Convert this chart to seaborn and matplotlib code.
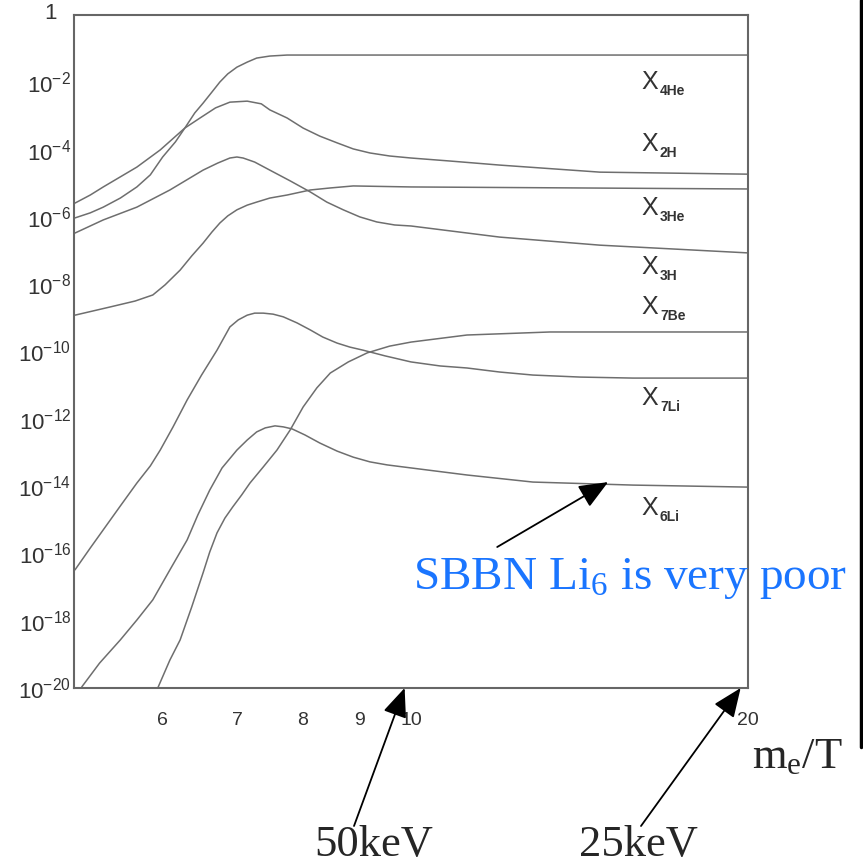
import numpy as np
import matplotlib
matplotlib.use("Agg")
import matplotlib.pyplot as plt
import seaborn as sns
from matplotlib.lines import Line2D
from matplotlib.ticker import NullFormatter, NullLocator

# abundances X vs m_e/T, y stored as log10(X)
he4_x = [5.01, 5.17, 5.31, 5.50, 5.69, 5.85, 6.00, 6.16, 6.28, 6.41, 6.52, 6.64, 6.75, 6.86,
         6.99, 7.14, 7.28, 7.48, 7.75, 10.0, 20.0]
he4_logy = [-6.03, -5.88, -5.71, -5.44, -5.11, -4.75, -4.22, -3.77, -3.36, -2.91, -2.62, -2.29,
            -1.99, -1.75, -1.55, -1.40, -1.28, -1.22, -1.19, -1.19, -1.19]

h2_x = [5.01, 5.17, 5.31, 5.50, 5.69, 5.97, 6.28, 6.48, 6.69, 6.89, 7.14, 7.35, 7.48, 7.75,
        8.01, 8.29, 8.59, 8.88, 9.19, 9.57, 10.0, 10.84, 12.0, 14.75, 20.0]
h2_logy = [-5.59, -5.35, -5.11, -4.81, -4.52, -4.01, -3.36, -3.06, -2.76, -2.59, -2.56, -2.64,
           -2.82, -3.06, -3.36, -3.60, -3.80, -3.98, -4.10, -4.19, -4.25, -4.34, -4.46, -4.67, -4.73]

h3_x = [5.01, 5.31, 5.69, 6.09, 6.52, 6.72, 6.89, 6.99, 7.08, 7.25, 7.48, 7.80, 8.13, 8.41,
        8.70, 9.00, 9.32, 9.67, 10.0, 12.0, 14.75, 20.0]
h3_logy = [-6.48, -6.09, -5.71, -5.20, -4.61, -4.40, -4.25, -4.22, -4.25, -4.37, -4.61, -4.93,
           -5.26, -5.56, -5.79, -6.00, -6.15, -6.24, -6.27, -6.60, -6.84, -7.07]

he3_x = [5.01, 5.38, 5.67, 5.88, 6.03, 6.22, 6.37, 6.52, 6.64, 6.75, 6.86, 6.99, 7.14, 7.28,
         7.48, 7.75, 8.13, 8.47, 8.88, 10.0, 20.0]
he3_logy = [-8.92, -8.68, -8.50, -8.32, -8.02, -7.58, -7.16, -6.78, -6.45, -6.18, -5.97, -5.79,
            -5.65, -5.56, -5.44, -5.35, -5.20, -5.14, -5.08, -5.11, -5.17]

be7_x = [5.94, 6.09, 6.22, 6.37, 6.52, 6.61, 6.71, 6.82, 6.93, 7.06, 7.18, 7.38, 7.59, 7.80,
         8.01, 8.24, 8.47, 8.79, 9.14, 9.57, 10.0, 11.22, 13.31, 20.0]
be7_logy = [-20.0, -19.17, -18.57, -17.59, -16.58, -15.96, -15.39, -14.95, -14.62, -14.26,
            -13.91, -13.43, -12.93, -12.33, -11.65, -11.08, -10.64, -10.31, -10.04, -9.84,
            -9.72, -9.51, -9.42, -9.42]

li7_x = [5.01, 5.17, 5.31, 5.50, 5.69, 5.85, 5.97, 6.13, 6.31, 6.50, 6.71, 6.89, 7.01, 7.14,
         7.25, 7.38, 7.53, 7.69, 7.91, 8.13, 8.34, 8.59, 8.82, 9.06, 9.48, 10.0, 10.62, 11.22,
         12.0, 12.85, 14.16, 15.79, 20.0]
li7_logy = [-16.49, -15.84, -15.30, -14.59, -13.91, -13.40, -12.93, -12.24, -11.44, -10.70,
            -9.96, -9.27, -9.06, -8.92, -8.86, -8.86, -8.89, -8.97, -9.15, -9.36, -9.57, -9.75,
            -9.87, -9.96, -10.13, -10.31, -10.43, -10.49, -10.61, -10.70, -10.76, -10.79, -10.79]

li6_x = [5.08, 5.27, 5.50, 5.69, 5.88, 6.09, 6.31, 6.45, 6.61, 6.78, 6.99, 7.14, 7.28, 7.41,
         7.56, 7.69, 7.83, 8.04, 8.29, 8.59, 8.88, 9.19, 9.52, 10.0, 11.22, 12.85, 15.79, 20.0]
li6_logy = [-19.97, -19.26, -18.57, -17.98, -17.38, -16.49, -15.60, -14.86, -14.12, -13.46,
            -12.93, -12.63, -12.39, -12.27, -12.21, -12.24, -12.30, -12.48, -12.72, -12.96,
            -13.14, -13.28, -13.37, -13.46, -13.67, -13.88, -13.97, -14.03]

curves = [(he4_x, he4_logy), (h2_x, h2_logy), (h3_x, h3_logy), (he3_x, he3_logy),
          (be7_x, be7_logy), (li7_x, li7_logy), (li6_x, li6_logy)]

# curve labels on the right
label_names = ["4He", "2H", "3He", "3H", "7Be", "7Li", "6Li"]
label_logy = [-1.99, -3.83, -5.74, -7.49, -8.68, -11.38, -14.65]
label_x = 16.08

x_ticks = [6, 7, 8, 9, 10, 20]
x_ticklabels = ["6", "7", "8", "9", "10", "20"]

sns.set_theme(style="white")
plt.rcParams["font.family"] = ["Liberation Sans", "DejaVu Sans"]
plt.rcParams["mathtext.default"] = "regular"

fig = plt.figure(figsize=(8.63, 8.66), dpi=100)
ax = fig.add_axes([74 / 863, 178 / 866, 674 / 863, 673 / 866])

for cx, cy in curves:
    sns.lineplot(x=cx, y=10 ** np.array(cy), ax=ax, color="#6e6e6e", lw=1.1,
                 estimator=None, sort=False)

ax.set_xscale("log")
ax.set_yscale("log")
ax.set_xlim(5, 20)
ax.set_ylim(1e-20, 1)

# y ticks: every decade, labels on even ones, minor at 5x10^k
decades = np.arange(-20, 1)
ylabels = []
for d in decades:
    if d % 2 == 0 and d != 0:
        ylabels.append(r"$10^{%d}$" % d)
    else:
        ylabels.append("")
ax.set_yticks(10.0 ** decades, ylabels)
ax.set_yticks(5 * 10.0 ** np.arange(-20, 0), minor=True)
ax.yaxis.set_minor_formatter(NullFormatter())
ax.annotate("1", xy=(0, 1), xycoords="axes fraction", xytext=(-17, 1), textcoords="offset points",
            ha="center", va="center", fontsize=16, color="#333333")

ax.set_xticks(x_ticks, x_ticklabels)
ax.xaxis.set_minor_locator(NullLocator())
ax.xaxis.set_minor_formatter(NullFormatter())

ax.tick_params(axis="y", which="major", direction="in", length=11, width=1.3,
               color="#555555", labelsize=16, pad=2, labelcolor="#333333")
ax.tick_params(axis="y", which="minor", direction="in", length=6, width=1.3,
               color="#555555")
ax.tick_params(axis="x", which="major", direction="in", length=6, width=1.0,
               color="#555555", labelsize=14, pad=17, labelcolor="#333333")

for sp in ax.spines.values():
    sp.set_color("#666666")
    sp.set_linewidth(1.5)

for name, ly in zip(label_names, label_logy):
    ax.text(label_x, 10 ** ly, "X", fontsize=18, va="center", ha="left", color="#333333")
    ax.annotate(name, xy=(label_x, 10 ** ly), xytext=(13, -6.5), textcoords="offset points",
                fontsize=10, fontweight="bold", va="center", ha="left", color="#333333")

arrow = dict(arrowstyle="-|>,head_length=0.6,head_width=0.25", color="black", lw=1.3,
             mutation_scale=30, shrinkA=0, shrinkB=0)

# SBBN Li6 note
ax.annotate("", xy=(15.0, 10 ** -13.88), xytext=(11.94, 10 ** -15.81), arrowprops=arrow)
fig.text(413 / 863, (866 - 589) / 866, r"SBBN Li$_6$ is very poor", fontsize=34,
         color="#1a75ff", family=["Liberation Serif"], va="baseline")

# energy markers below the axis
ax.annotate("", xy=(9.87, 1e-20), xytext=(354 / 863, (866 - 826) / 866),
            textcoords="figure fraction", arrowprops=arrow, annotation_clip=False)
ax.annotate("", xy=(19.7, 1e-20), xytext=(641 / 863, (866 - 826) / 866),
            textcoords="figure fraction", arrowprops=arrow, annotation_clip=False)
fig.text(314 / 863, 10 / 866, "50keV", fontsize=32, family=["Liberation Serif"], va="baseline")
fig.text(579 / 863, 10 / 866, "25keV", fontsize=32, family=["Liberation Serif"], va="baseline")
fig.text(752 / 863, (866 - 768) / 866, r"m$_e$/T", fontsize=32, family=["Liberation Serif"],
         va="baseline")

# black bar at right edge
fig.add_artist(Line2D([861 / 863, 861 / 863], [(866 - 747) / 866, 1.0],
                      transform=fig.transFigure, color="black", lw=2.5))

fig.savefig("out.png", dpi=100, facecolor="white")
